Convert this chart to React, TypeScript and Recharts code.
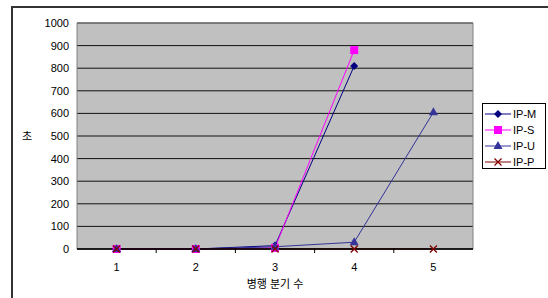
import {
  LineChart, Line, XAxis, YAxis, CartesianGrid, Legend,
} from 'recharts';

const categories = ['1', '2', '3', '4', '5'];
const ipM = [0, 0, 15, 810, null];
const ipS = [0, 0, 5, 880, null];
const ipU = [0, 0, 10, 30, 605];
const ipP = [0, 0, 0, 0, 0];
const yTicks = [0, 100, 200, 300, 400, 500, 600, 700, 800, 900, 1000];

const series = [
  { key: 'IP-M', color: '#000080', shape: 'diamond' },
  { key: 'IP-S', color: '#FF00FF', shape: 'square' },
  { key: 'IP-U', color: '#333399', shape: 'triangle' },
  { key: 'IP-P', color: '#800000', shape: 'cross' },
];

const data = categories.map((c, i) => ({
  cat: c,
  'IP-M': ipM[i],
  'IP-S': ipS[i],
  'IP-U': ipU[i],
  'IP-P': ipP[i],
}));

const font = '"Liberation Sans", "Noto Sans CJK KR", sans-serif';

function Marker({ shape, color, cx, cy }: { shape: string; color: string; cx: number; cy: number }) {
  if (shape === 'diamond')
    return <polygon points={`${cx},${cy - 4} ${cx + 4},${cy} ${cx},${cy + 4} ${cx - 4},${cy}`} fill={color} />;
  if (shape === 'square')
    return <rect x={cx - 4} y={cy - 4} width={8} height={8} fill={color} />;
  if (shape === 'triangle')
    return <polygon points={`${cx},${cy - 5} ${cx + 4.5},${cy + 3} ${cx - 4.5},${cy + 3}`} fill={color} />;
  return (
    <g stroke={color} strokeWidth={1.3}>
      <line x1={cx - 3.5} y1={cy - 3.5} x2={cx + 3.5} y2={cy + 3.5} />
      <line x1={cx - 3.5} y1={cy + 3.5} x2={cx + 3.5} y2={cy - 3.5} />
    </g>
  );
}

const makeDot = (shape: string, color: string) => (p: any) => {
  if (p.value == null || p.cy == null) return <g key={p.key} />;
  return <Marker key={p.key} shape={shape} color={color} cx={p.cx} cy={p.cy} />;
};

const plotW = 396;
const half = plotW / categories.length / 2;

function XTick(p: any) {
  return (
    <g>
      {p.index < categories.length - 1 && (
        <line x1={p.x + half} y1={p.y - 4} x2={p.x + half} y2={p.y - 9} stroke="#000" />
      )}
      <text x={p.x} y={p.y + 14} textAnchor="middle" fontSize={11} fill="#000" fontFamily={font}>
        {p.payload.value}
      </text>
    </g>
  );
}

function LegendBox() {
  return (
    <div style={{ border: '1px solid #000', background: '#fff', width: 64, height: 66, boxSizing: 'border-box' }}>
      <svg width={62} height={64} style={{ display: 'block' }}>
        {series.map((s, i) => {
          const y = 10 + i * 16;
          return (
            <g key={s.key}>
              <line x1={2} y1={y} x2={28} y2={y} stroke={s.color} />
              <Marker shape={s.shape} color={s.color} cx={15} cy={y} />
              <text x={30} y={y + 4} fontSize={11} fontFamily={font} fill="#000">{s.key}</text>
            </g>
          );
        })}
      </svg>
    </div>
  );
}

export default function App() {
  return (
    <div style={{ position: 'absolute', left: 0, top: 0, width: 548, height: 298, background: '#fff' }}>
      <div style={{
        position: 'absolute', left: 11, top: 6, width: 540, height: 300,
        borderLeft: '2px solid #333', borderTop: '2px solid #333',
      }} />
      <LineChart
        width={548}
        height={298}
        data={data}
        margin={{ top: 23, right: 11, left: 17, bottom: 19 }}
        style={{ position: 'absolute', left: 0, top: 0 }}
      >
        <CartesianGrid fill="#C0C0C0" stroke="#111" vertical={false} />
        <CartesianGrid
          fill="none"
          stroke="#808080"
          verticalCoordinatesGenerator={({ offset }: any) => [offset.left, offset.left + offset.width]}
          horizontalCoordinatesGenerator={({ offset }: any) => [offset.top]}
        />
        <XAxis
          dataKey="cat"
          height={30}
          padding={{ left: half, right: half }}
          tickLine={false}
          axisLine={{ stroke: '#000', strokeWidth: 1.5 }}
          tick={<XTick />}
          label={{ value: '병행 분기 수', position: 'bottom', offset: 1, fontSize: 11, fill: '#000', fontFamily: font }}
        />
        <YAxis
          width={60}
          domain={[0, 1000]}
          ticks={yTicks}
          interval={0}
          tickLine={false}
          axisLine={false}
          tick={{ fontSize: 11, fill: '#000', fontFamily: font }}
          label={{ value: '초', position: 'insideLeft', offset: 5, fontSize: 11, fill: '#000', fontFamily: font }}
        />
        <Legend
          layout="vertical"
          align="right"
          verticalAlign="top"
          wrapperStyle={{ position: 'absolute', left: 482, top: 103, width: 64 }}
          content={() => <LegendBox />}
        />
        {series.map((s) => (
          <Line
            key={s.key}
            type="linear"
            dataKey={s.key}
            stroke={s.color}
            strokeWidth={1}
            dot={makeDot(s.shape, s.color)}
            activeDot={false}
            isAnimationActive={false}
          />
        ))}
      </LineChart>
    </div>
  );
}
